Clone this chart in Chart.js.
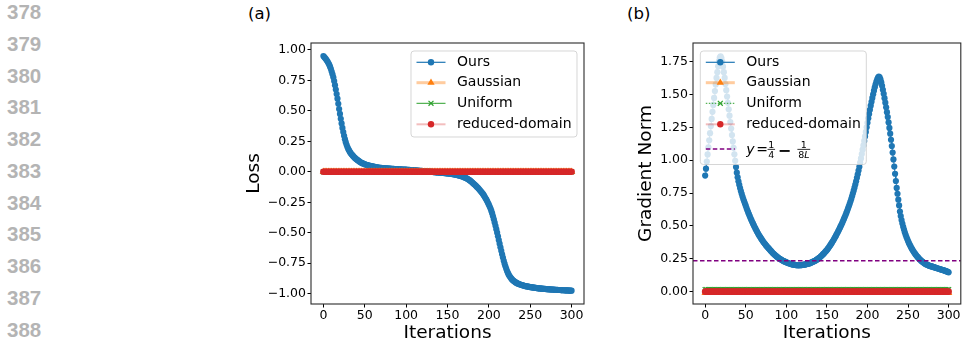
<!DOCTYPE html>
<html>
<head>
<meta charset="utf-8">
<script src="https://cdn.jsdelivr.net/npm/chart.js@4.4.1/dist/chart.umd.min.js"></script>
<style>
    body { margin: 0; background: #fff; }
    #page { position: relative; width: 966px; height: 345px; overflow: hidden; background: #fff; }
    .lineno { position: absolute; left: 7px; font: bold 20.5px "Liberation Sans", Arial, sans-serif; line-height: 22px; color: #b4b4b4; }
    .panel { position: absolute; font: 16.5px "DejaVu Sans"; line-height: 18px; color: #000; }
    canvas { position: absolute; }
</style>
</head>
<body>
<div id="page">
    <div class="panel" style="left:248px;top:5px">(a)</div>
    <div class="panel" style="left:627px;top:5px">(b)</div>
    <canvas id="chart-loss" width="370" height="315" style="left:230px;top:30px"></canvas>
    <canvas id="chart-grad" width="346" height="315" style="left:620px;top:30px"></canvas>
</div>
<script>
const lineNumbers = [378, 379, 380, 381, 382, 383, 384, 385, 386, 387, 388];

const xTicks = [0, 50, 100, 150, 200, 250, 300];
const lossTicks = [-1, -0.75, -0.5, -0.25, 0, 0.25, 0.5, 0.75, 1];
const gradTicks = [0, 0.25, 0.5, 0.75, 1, 1.25, 1.5, 1.75];

// "Ours", one value per iteration 0..300
const lossOurs = [
    0.950, 0.942, 0.934, 0.925, 0.915, 0.905, 0.893, 0.879, 0.863, 0.845,
    0.823, 0.800, 0.775, 0.745, 0.711, 0.675, 0.638, 0.600, 0.558, 0.515,
    0.475, 0.435, 0.397, 0.360, 0.326, 0.295, 0.268, 0.243, 0.222, 0.203,
    0.188, 0.175, 0.163, 0.153, 0.144, 0.136, 0.128, 0.121, 0.114, 0.108,
    0.102, 0.097, 0.092, 0.087, 0.082, 0.078, 0.074, 0.071, 0.068, 0.065,
    0.062, 0.060, 0.057, 0.055, 0.053, 0.051, 0.049, 0.048, 0.046, 0.045,
    0.043, 0.042, 0.040, 0.039, 0.037, 0.036, 0.035, 0.034, 0.033, 0.033,
    0.032, 0.031, 0.031, 0.030, 0.029, 0.029, 0.028, 0.028, 0.027, 0.027,
    0.026, 0.026, 0.025, 0.025, 0.024, 0.024, 0.023, 0.023, 0.022, 0.022,
    0.021, 0.021, 0.020, 0.020, 0.020, 0.019, 0.019, 0.018, 0.018, 0.017,
    0.017, 0.016, 0.016, 0.015, 0.015, 0.014, 0.014, 0.013, 0.013, 0.012,
    0.012, 0.011, 0.011, 0.010, 0.010, 0.009, 0.008, 0.008, 0.007, 0.007,
    0.006, 0.005, 0.005, 0.004, 0.004, 0.003, 0.002, 0.002, 0.001, 0.001,
    0.000, -0.001, -0.001, -0.002, -0.002, -0.003, -0.004, -0.004, -0.005, -0.005,
    -0.006, -0.007, -0.007, -0.008, -0.009, -0.009, -0.010, -0.011, -0.011, -0.012,
    -0.013, -0.014, -0.015, -0.016, -0.017, -0.018, -0.019, -0.020, -0.021, -0.022,
    -0.024, -0.025, -0.027, -0.028, -0.030, -0.032, -0.034, -0.036, -0.039, -0.041,
    -0.044, -0.047, -0.050, -0.054, -0.058, -0.062, -0.066, -0.071, -0.076, -0.082,
    -0.088, -0.094, -0.100, -0.107, -0.113, -0.120, -0.127, -0.134, -0.142, -0.150,
    -0.158, -0.166, -0.175, -0.184, -0.194, -0.205, -0.217, -0.229, -0.242, -0.256,
    -0.270, -0.285, -0.302, -0.321, -0.342, -0.365, -0.390, -0.416, -0.443, -0.471,
    -0.500, -0.530, -0.560, -0.590, -0.620, -0.649, -0.677, -0.704, -0.730, -0.754,
    -0.776, -0.796, -0.814, -0.830, -0.844, -0.856, -0.866, -0.875, -0.883, -0.890,
    -0.896, -0.901, -0.906, -0.910, -0.914, -0.917, -0.920, -0.923, -0.925, -0.928,
    -0.930, -0.932, -0.934, -0.936, -0.938, -0.939, -0.941, -0.942, -0.943, -0.945,
    -0.946, -0.947, -0.948, -0.949, -0.950, -0.951, -0.952, -0.953, -0.954, -0.955,
    -0.956, -0.957, -0.957, -0.958, -0.959, -0.959, -0.960, -0.961, -0.961, -0.962,
    -0.963, -0.963, -0.964, -0.964, -0.965, -0.965, -0.966, -0.966, -0.967, -0.967,
    -0.968, -0.968, -0.969, -0.969, -0.970, -0.970, -0.970, -0.971, -0.971, -0.972,
    -0.972, -0.972, -0.973, -0.973, -0.974, -0.974, -0.974, -0.975, -0.975, -0.975,
    -0.976
];

const gradOurs = [
    0.883, 0.936, 0.990, 1.044, 1.098, 1.152, 1.206, 1.260, 1.314, 1.368,
    1.421, 1.474, 1.526, 1.577, 1.626, 1.670, 1.715, 1.752, 1.780, 1.790,
    1.778, 1.750, 1.712, 1.670, 1.626, 1.580, 1.533, 1.485, 1.437, 1.388,
    1.339, 1.290, 1.241, 1.192, 1.143, 1.094, 1.045, 0.996, 0.948, 0.905,
    0.870, 0.840, 0.813, 0.788, 0.765, 0.744, 0.724, 0.705, 0.687, 0.670,
    0.654, 0.636, 0.619, 0.603, 0.588, 0.573, 0.558, 0.544, 0.530, 0.517,
    0.504, 0.491, 0.479, 0.467, 0.455, 0.444, 0.433, 0.423, 0.413, 0.403,
    0.394, 0.385, 0.376, 0.368, 0.360, 0.352, 0.345, 0.338, 0.331, 0.324,
    0.317, 0.310, 0.303, 0.296, 0.290, 0.284, 0.278, 0.273, 0.268, 0.263,
    0.258, 0.254, 0.250, 0.246, 0.242, 0.238, 0.235, 0.232, 0.229, 0.226,
    0.223, 0.221, 0.218, 0.216, 0.214, 0.212, 0.210, 0.208, 0.207, 0.205,
    0.204, 0.203, 0.202, 0.201, 0.201, 0.201, 0.201, 0.201, 0.202, 0.202,
    0.203, 0.204, 0.205, 0.207, 0.208, 0.210, 0.211, 0.213, 0.215, 0.217,
    0.220, 0.222, 0.225, 0.228, 0.231, 0.234, 0.237, 0.241, 0.245, 0.250,
    0.255, 0.260, 0.265, 0.271, 0.277, 0.283, 0.289, 0.296, 0.303, 0.310,
    0.317, 0.325, 0.334, 0.343, 0.352, 0.361, 0.371, 0.381, 0.391, 0.402,
    0.413, 0.424, 0.436, 0.448, 0.460, 0.472, 0.485, 0.498, 0.511, 0.525,
    0.539, 0.553, 0.568, 0.583, 0.599, 0.615, 0.632, 0.649, 0.667, 0.686,
    0.705, 0.725, 0.746, 0.768, 0.791, 0.815, 0.840, 0.866, 0.893, 0.921,
    0.950, 0.982, 1.014, 1.047, 1.080, 1.113, 1.147, 1.181, 1.215, 1.250,
    1.285, 1.319, 1.352, 1.384, 1.415, 1.445, 1.474, 1.502, 1.529, 1.555,
    1.578, 1.598, 1.615, 1.628, 1.636, 1.630, 1.615, 1.593, 1.566, 1.536,
    1.505, 1.472, 1.438, 1.403, 1.366, 1.328, 1.288, 1.246, 1.202, 1.156,
    1.108, 1.058, 1.006, 0.952, 0.897, 0.842, 0.789, 0.745, 0.700, 0.656,
    0.610, 0.575, 0.545, 0.518, 0.494, 0.472, 0.452, 0.433, 0.416, 0.400,
    0.385, 0.371, 0.358, 0.346, 0.334, 0.323, 0.313, 0.303, 0.294, 0.285,
    0.277, 0.269, 0.262, 0.255, 0.248, 0.242, 0.236, 0.231, 0.226, 0.221,
    0.217, 0.213, 0.209, 0.206, 0.203, 0.200, 0.198, 0.196, 0.194, 0.192,
    0.190, 0.188, 0.186, 0.184, 0.182, 0.180, 0.178, 0.176, 0.174, 0.172,
    0.170, 0.168, 0.166, 0.164, 0.162, 0.160, 0.158, 0.156, 0.153, 0.150,
    0.147
];

// baselines, sampled every 2 iterations
const flatIters = [
    0, 2, 4, 6, 8, 10, 12, 14, 16, 18, 20, 22, 24, 26, 28, 30, 32, 34, 36, 38, 40, 42, 44, 46, 48,
    50, 52, 54, 56, 58, 60, 62, 64, 66, 68, 70, 72, 74, 76, 78, 80, 82, 84, 86, 88, 90, 92, 94, 96, 98,
    100, 102, 104, 106, 108, 110, 112, 114, 116, 118, 120, 122, 124, 126, 128, 130, 132, 134, 136, 138, 140, 142, 144, 146, 148,
    150, 152, 154, 156, 158, 160, 162, 164, 166, 168, 170, 172, 174, 176, 178, 180, 182, 184, 186, 188, 190, 192, 194, 196, 198,
    200, 202, 204, 206, 208, 210, 212, 214, 216, 218, 220, 222, 224, 226, 228, 230, 232, 234, 236, 238, 240, 242, 244, 246, 248,
    250, 252, 254, 256, 258, 260, 262, 264, 266, 268, 270, 272, 274, 276, 278, 280, 282, 284, 286, 288, 290, 292, 294, 296, 298,
    300
];
const gaussianLoss = [
    0, 0, 0, 0, 0, 0, 0, 0, 0, 0, 0, 0, 0, 0, 0, 0, 0, 0, 0, 0, 0, 0, 0, 0, 0,
    0, 0, 0, 0, 0, 0, 0, 0, 0, 0, 0, 0, 0, 0, 0, 0, 0, 0, 0, 0, 0, 0, 0, 0, 0,
    0, 0, 0, 0, 0, 0, 0, 0, 0, 0, 0, 0, 0, 0, 0, 0, 0, 0, 0, 0, 0, 0, 0, 0, 0,
    0, 0, 0, 0, 0, 0, 0, 0, 0, 0, 0, 0, 0, 0, 0, 0, 0, 0, 0, 0, 0, 0, 0, 0, 0,
    0, 0, 0, 0, 0, 0, 0, 0, 0, 0, 0, 0, 0, 0, 0, 0, 0, 0, 0, 0, 0, 0, 0, 0, 0,
    0, 0, 0, 0, 0, 0, 0, 0, 0, 0, 0, 0, 0, 0, 0, 0, 0, 0, 0, 0, 0, 0, 0, 0, 0,
    0
];
const uniformLoss = [
    0, 0, 0, 0, 0, 0, 0, 0, 0, 0, 0, 0, 0, 0, 0, 0, 0, 0, 0, 0, 0, 0, 0, 0, 0,
    0, 0, 0, 0, 0, 0, 0, 0, 0, 0, 0, 0, 0, 0, 0, 0, 0, 0, 0, 0, 0, 0, 0, 0, 0,
    0, 0, 0, 0, 0, 0, 0, 0, 0, 0, 0, 0, 0, 0, 0, 0, 0, 0, 0, 0, 0, 0, 0, 0, 0,
    0, 0, 0, 0, 0, 0, 0, 0, 0, 0, 0, 0, 0, 0, 0, 0, 0, 0, 0, 0, 0, 0, 0, 0, 0,
    0, 0, 0, 0, 0, 0, 0, 0, 0, 0, 0, 0, 0, 0, 0, 0, 0, 0, 0, 0, 0, 0, 0, 0, 0,
    0, 0, 0, 0, 0, 0, 0, 0, 0, 0, 0, 0, 0, 0, 0, 0, 0, 0, 0, 0, 0, 0, 0, 0, 0,
    0
];
const reducedLoss = [
    0, 0, 0, 0, 0, 0, 0, 0, 0, 0, 0, 0, 0, 0, 0, 0, 0, 0, 0, 0, 0, 0, 0, 0, 0,
    0, 0, 0, 0, 0, 0, 0, 0, 0, 0, 0, 0, 0, 0, 0, 0, 0, 0, 0, 0, 0, 0, 0, 0, 0,
    0, 0, 0, 0, 0, 0, 0, 0, 0, 0, 0, 0, 0, 0, 0, 0, 0, 0, 0, 0, 0, 0, 0, 0, 0,
    0, 0, 0, 0, 0, 0, 0, 0, 0, 0, 0, 0, 0, 0, 0, 0, 0, 0, 0, 0, 0, 0, 0, 0, 0,
    0, 0, 0, 0, 0, 0, 0, 0, 0, 0, 0, 0, 0, 0, 0, 0, 0, 0, 0, 0, 0, 0, 0, 0, 0,
    0, 0, 0, 0, 0, 0, 0, 0, 0, 0, 0, 0, 0, 0, 0, 0, 0, 0, 0, 0, 0, 0, 0, 0, 0,
    0
];
const gaussianGrad = [
    -0.01, -0.01, -0.01, -0.01, -0.01, -0.01, -0.01, -0.01, -0.01, -0.01, -0.01, -0.01, -0.01, -0.01, -0.01, -0.01, -0.01, -0.01, -0.01, -0.01, -0.01, -0.01, -0.01, -0.01, -0.01,
    -0.01, -0.01, -0.01, -0.01, -0.01, -0.01, -0.01, -0.01, -0.01, -0.01, -0.01, -0.01, -0.01, -0.01, -0.01, -0.01, -0.01, -0.01, -0.01, -0.01, -0.01, -0.01, -0.01, -0.01, -0.01,
    -0.01, -0.01, -0.01, -0.01, -0.01, -0.01, -0.01, -0.01, -0.01, -0.01, -0.01, -0.01, -0.01, -0.01, -0.01, -0.01, -0.01, -0.01, -0.01, -0.01, -0.01, -0.01, -0.01, -0.01, -0.01,
    -0.01, -0.01, -0.01, -0.01, -0.01, -0.01, -0.01, -0.01, -0.01, -0.01, -0.01, -0.01, -0.01, -0.01, -0.01, -0.01, -0.01, -0.01, -0.01, -0.01, -0.01, -0.01, -0.01, -0.01, -0.01,
    -0.01, -0.01, -0.01, -0.01, -0.01, -0.01, -0.01, -0.01, -0.01, -0.01, -0.01, -0.01, -0.01, -0.01, -0.01, -0.01, -0.01, -0.01, -0.01, -0.01, -0.01, -0.01, -0.01, -0.01, -0.01,
    -0.01, -0.01, -0.01, -0.01, -0.01, -0.01, -0.01, -0.01, -0.01, -0.01, -0.01, -0.01, -0.01, -0.01, -0.01, -0.01, -0.01, -0.01, -0.01, -0.01, -0.01, -0.01, -0.01, -0.01, -0.01,
    -0.01
];
const uniformGrad = [
    0.015, 0.015, 0.015, 0.015, 0.015, 0.015, 0.015, 0.015, 0.015, 0.015, 0.015, 0.015, 0.015, 0.015, 0.015, 0.015, 0.015, 0.015, 0.015, 0.015, 0.015, 0.015, 0.015, 0.015, 0.015,
    0.015, 0.015, 0.015, 0.015, 0.015, 0.015, 0.015, 0.015, 0.015, 0.015, 0.015, 0.015, 0.015, 0.015, 0.015, 0.015, 0.015, 0.015, 0.015, 0.015, 0.015, 0.015, 0.015, 0.015, 0.015,
    0.015, 0.015, 0.015, 0.015, 0.015, 0.015, 0.015, 0.015, 0.015, 0.015, 0.015, 0.015, 0.015, 0.015, 0.015, 0.015, 0.015, 0.015, 0.015, 0.015, 0.015, 0.015, 0.015, 0.015, 0.015,
    0.015, 0.015, 0.015, 0.015, 0.015, 0.015, 0.015, 0.015, 0.015, 0.015, 0.015, 0.015, 0.015, 0.015, 0.015, 0.015, 0.015, 0.015, 0.015, 0.015, 0.015, 0.015, 0.015, 0.015, 0.015,
    0.015, 0.015, 0.015, 0.015, 0.015, 0.015, 0.015, 0.015, 0.015, 0.015, 0.015, 0.015, 0.015, 0.015, 0.015, 0.015, 0.015, 0.015, 0.015, 0.015, 0.015, 0.015, 0.015, 0.015, 0.015,
    0.015, 0.015, 0.015, 0.015, 0.015, 0.015, 0.015, 0.015, 0.015, 0.015, 0.015, 0.015, 0.015, 0.015, 0.015, 0.015, 0.015, 0.015, 0.015, 0.015, 0.015, 0.015, 0.015, 0.015, 0.015,
    0.015
];
const reducedGrad = [
    0, 0, 0, 0, 0, 0, 0, 0, 0, 0, 0, 0, 0, 0, 0, 0, 0, 0, 0, 0, 0, 0, 0, 0, 0,
    0, 0, 0, 0, 0, 0, 0, 0, 0, 0, 0, 0, 0, 0, 0, 0, 0, 0, 0, 0, 0, 0, 0, 0, 0,
    0, 0, 0, 0, 0, 0, 0, 0, 0, 0, 0, 0, 0, 0, 0, 0, 0, 0, 0, 0, 0, 0, 0, 0, 0,
    0, 0, 0, 0, 0, 0, 0, 0, 0, 0, 0, 0, 0, 0, 0, 0, 0, 0, 0, 0, 0, 0, 0, 0, 0,
    0, 0, 0, 0, 0, 0, 0, 0, 0, 0, 0, 0, 0, 0, 0, 0, 0, 0, 0, 0, 0, 0, 0, 0, 0,
    0, 0, 0, 0, 0, 0, 0, 0, 0, 0, 0, 0, 0, 0, 0, 0, 0, 0, 0, 0, 0, 0, 0, 0, 0,
    0
];

// y = 1/4 - 1/(8L)
const thresholdY = 0.235;

const FONT = "DejaVu Sans";
const BLUE = "#1f77b4";
const ORANGE = "#ff7f0e";
const GREEN = "#2ca02c";
const RED = "#d62728";

Chart.defaults.font.family = FONT;
Chart.defaults.color = "#000";

function toPoints(xs, ys) {
    return ys.map((y, i) => ({ x: xs ? xs[i] : i, y: y }));
}

function fmtTick(v) {
    return (v < 0 ? "\u2212" : "") + Math.abs(v).toFixed(2);
}

function marker(ctx, kind, x, y, r, color) {
    ctx.fillStyle = color;
    ctx.strokeStyle = color;
    ctx.beginPath();
    if (kind === "circle") {
        ctx.arc(x, y, r, 0, Math.PI * 2);
        ctx.fill();
    } else if (kind === "triangle") {
        ctx.moveTo(x, y - r);
        ctx.lineTo(x + 0.866 * r, y + 0.5 * r);
        ctx.lineTo(x - 0.866 * r, y + 0.5 * r);
        ctx.closePath();
        ctx.fill();
    } else if (kind === "crossRot") {
        const d = r * 0.707;
        ctx.lineWidth = 1.2;
        ctx.moveTo(x - d, y - d);
        ctx.lineTo(x + d, y + d);
        ctx.moveTo(x + d, y - d);
        ctx.lineTo(x - d, y + d);
        ctx.stroke();
    }
}

function fraction(ctx, num, den, cx, y) {
    ctx.font = "9.5px '" + FONT + "'";
    ctx.textAlign = "center";
    ctx.fillText(num, cx, y - 1.4);
    let w;
    if (den === "8L") {
        ctx.textAlign = "left";
        const w8 = ctx.measureText("8").width;
        ctx.font = "italic 9.5px '" + FONT + "'";
        const wL = ctx.measureText("L").width;
        const x0 = cx - (w8 + wL) / 2;
        ctx.fillText("L", x0 + w8, y + 9);
        ctx.font = "9.5px '" + FONT + "'";
        ctx.fillText("8", x0, y + 9);
        w = w8 + wL + 1.5;
    } else {
        ctx.fillText(den, cx, y + 9);
        w = ctx.measureText(den).width + 1.5;
    }
    ctx.fillRect(cx - w / 2, y - 0.1, w, 0.8);
    ctx.textAlign = "left";
}

function drawMath(ctx, x, y) {
    ctx.save();
    ctx.fillStyle = "#000";
    ctx.textBaseline = "alphabetic";
    ctx.textAlign = "left";
    const base = y + 4.5;
    ctx.font = "italic 14px '" + FONT + "'";
    ctx.fillText("y", x, base);
    ctx.font = "14px '" + FONT + "'";
    ctx.fillText("=", x + 10, base);
    fraction(ctx, "1", "4", x + 25, y);
    ctx.font = "bold 16px '" + FONT + "'";
    ctx.fillText("\u2212", x + 31.5, y + 6.5);
    fraction(ctx, "1", "8L", x + 57.5, y);
    ctx.restore();
}

function drawHandle(ctx, h, x0, x1, y) {
    ctx.save();
    ctx.strokeStyle = h.line;
    ctx.lineWidth = h.lw;
    ctx.setLineDash(h.dash || []);
    ctx.beginPath();
    ctx.moveTo(x0, y);
    ctx.lineTo(x1, y);
    ctx.stroke();
    ctx.setLineDash([]);
    if (h.marker) marker(ctx, h.marker, (x0 + x1) / 2, y, h.r, h.color);
    ctx.restore();
}

const mplFrame = {
    id: "mplFrame",
    afterDatasetsDraw(chart) {
        const { ctx, chartArea: a } = chart;
        ctx.save();
        ctx.strokeStyle = "#2a2a2a";
        ctx.lineWidth = 1.1;
        ctx.strokeRect(a.left, a.top, a.right - a.left, a.bottom - a.top);
        ctx.restore();
    },
    afterDraw(chart, args, o) {
        if (!o.items) return;
        const { ctx, chartArea: a } = chart;
        const bx = o.anchor === "right" ? a.right - 7 - o.width : a.left + 7.3;
        const by = a.top + 8;
        ctx.save();
        ctx.beginPath();
        ctx.roundRect(bx, by, o.width, o.height, 3);
        ctx.fillStyle = "rgba(255,255,255,0.8)";
        ctx.fill();
        ctx.strokeStyle = "rgba(204,204,204,0.8)";
        ctx.lineWidth = 1;
        ctx.stroke();
        const hx0 = bx + 5.5;
        const hx1 = hx0 + 29;
        const tx = hx1 + 11.5;
        o.items.forEach((it, i) => {
            const y = by + o.rows[i];
            drawHandle(ctx, it, hx0, hx1, y);
            if (it.math) {
                drawMath(ctx, tx, y);
            } else {
                ctx.fillStyle = "#000";
                ctx.textBaseline = "middle";
                ctx.textAlign = "left";
                ctx.font = "14px '" + FONT + "'";
                ctx.fillText(it.label, tx, y);
            }
        });
        ctx.restore();
    }
};

function baseDatasets(ours, gauss, unif, reduced, dotted) {
    return [
        {
            label: "Ours", data: toPoints(null, ours), order: 4,
            borderColor: BLUE, borderWidth: 1, pointRadius: 3.1,
            pointBackgroundColor: BLUE, pointBorderWidth: 0
        },
        {
            label: "Gaussian", data: toPoints(flatIters, gauss), order: 3,
            borderColor: "rgba(255,127,14,0.4)", borderWidth: 3,
            pointStyle: "triangle", pointRadius: 4.3,
            pointBackgroundColor: ORANGE, pointBorderColor: ORANGE, pointBorderWidth: 0
        },
        {
            label: "Uniform", data: toPoints(flatIters, unif), order: 2,
            borderColor: GREEN, borderWidth: 1.2, borderDash: dotted ? [1.5, 1.5] : [],
            pointStyle: "crossRot", pointRadius: 3.5,
            pointBorderColor: GREEN, pointBorderWidth: 1.2
        },
        {
            label: "reduced-domain", data: toPoints(flatIters, reduced), order: 1,
            borderColor: "rgba(214,39,40,0.3)", borderWidth: 2, pointRadius: 3.3,
            pointBackgroundColor: RED, pointBorderWidth: 0
        }
    ];
}

function legendItems(dotted) {
    return [
        { label: "Ours", line: BLUE, lw: 1.2, marker: "circle", r: 3.2, color: BLUE },
        { label: "Gaussian", line: "rgba(255,127,14,0.4)", lw: 3, marker: "triangle", r: 4.2, color: ORANGE },
        { label: "Uniform", line: GREEN, lw: 1, dash: dotted ? [1.5, 1.5] : [], marker: "crossRot", r: 3.5, color: GREEN },
        { label: "reduced-domain", line: "rgba(214,39,40,0.3)", lw: 2, marker: "circle", r: 3.2, color: RED }
    ];
}

function makeChart(id, cfg) {
    const tickFont = { size: 12.5, family: FONT };
    const titleFont = { size: 18.5, family: FONT };
    const grid = { drawOnChartArea: false, drawTicks: true, tickLength: 3.5, tickColor: "#000", tickWidth: 1 };
    return new Chart(document.getElementById(id), {
        type: "line",
        data: { datasets: cfg.datasets },
        options: {
            responsive: false,
            animation: false,
            events: [],
            devicePixelRatio: 1,
            layout: { padding: { top: 13, right: cfg.padRight, left: 0, bottom: 0 } },
            scales: {
                x: {
                    type: "linear", min: -15, max: 315,
                    afterBuildTicks: (s) => { s.ticks = xTicks.map((v) => ({ value: v })); },
                    afterFit: (s) => { s.height = 41; },
                    ticks: { font: tickFont, color: "#000", padding: 1, maxRotation: 0 },
                    grid: grid,
                    border: { display: false },
                    title: { display: true, text: "Iterations", font: titleFont, color: "#000", padding: { top: 0, bottom: 1 } }
                },
                y: {
                    type: "linear", min: cfg.yMin, max: cfg.yMax,
                    afterBuildTicks: (s) => { s.ticks = cfg.yTicks.map((v) => ({ value: v })); },
                    afterFit: (s) => { s.width = cfg.yWidth; },
                    ticks: { font: tickFont, color: "#000", padding: 1.5, callback: (v) => fmtTick(v) },
                    grid: grid,
                    border: { display: false },
                    title: { display: true, text: cfg.yTitle, font: titleFont, color: "#000", padding: { top: cfg.titlePad, bottom: 0 } }
                }
            },
            plugins: {
                legend: { display: false },
                tooltip: { enabled: false },
                mplFrame: cfg.legend
            }
        },
        plugins: [mplFrame]
    });
}

(function () {
    "use strict";
    const page = document.getElementById("page");
    lineNumbers.forEach((n, i) => {
        const div = document.createElement("div");
        div.className = "lineno";
        div.style.top = (11.8 + i * 31.75 - 10.7).toFixed(1) + "px";
        div.textContent = n;
        page.appendChild(div);
    });

    makeChart("chart-loss", {
        datasets: baseDatasets(lossOurs, gaussianLoss, uniformLoss, reducedLoss, false),
        yMin: -1.085, yMax: 1.057, yTicks: lossTicks, yTitle: "Loss",
        yWidth: 81, titlePad: 13.4, padRight: 16,
        legend: { anchor: "right", width: 166, height: 86, rows: [11.3, 31.7, 52.3, 73.3], items: legendItems(false) }
    });

    const gradSets = baseDatasets(gradOurs, gaussianGrad, uniformGrad, reducedGrad, true);
    gradSets.push({
        label: "threshold", data: [{ x: -15, y: thresholdY }, { x: 315, y: thresholdY }], order: 0,
        borderColor: "purple", borderWidth: 1.3, borderDash: [4.5, 2.5], pointRadius: 0
    });
    const gradLegend = legendItems(true);
    gradLegend.push({ label: "y = 1/4 \u2212 1/(8L)", math: true, line: "purple", lw: 1.3, dash: [4.5, 2.5] });

    makeChart("chart-grad", {
        datasets: gradSets,
        yMin: -0.094, yMax: 1.892, yTicks: gradTicks, yTitle: "Gradient Norm",
        yWidth: 73, titlePad: 14.6, padRight: 1.7,
        legend: { anchor: "left", width: 166, height: 113.5, rows: [11.3, 31.7, 52.3, 73.3, 98], items: gradLegend }
    });
})();
</script>
</body>
</html>
